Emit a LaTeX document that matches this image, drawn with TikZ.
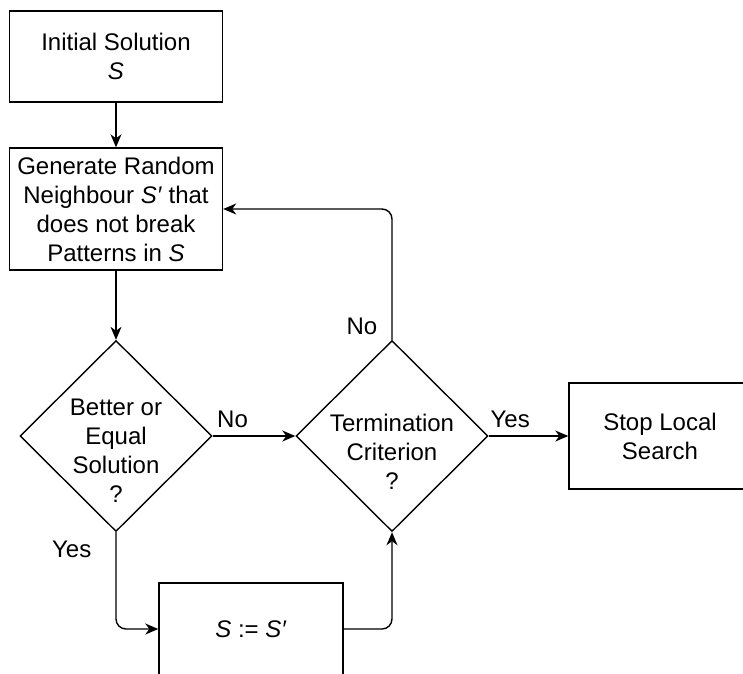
\documentclass[tikz,border=0pt]{standalone}
\usepackage{fontspec}
\setmainfont{Liberation Sans}
\usetikzlibrary{shapes.geometric}
\usetikzlibrary{arrows.meta}
\usetikzlibrary{positioning}
\tikzset{box/.style={draw, line width=1.4pt, inner sep=0pt, align=center},
 decision/.style={draw, diamond, line width=1.4pt, inner sep=0pt,
   minimum width=192pt, minimum height=191pt},
 flow/.style={draw, line width=1.4pt, rounded corners=10pt,
   -{Stealth[length=13pt, width=11pt, inset=4pt]}},
 lbl/.style={inner sep=2pt},
 }

\begin{document}
\begin{tikzpicture}[x=1pt, y=-1pt, font=\fontsize{24}{29}\selectfont]
        \useasboundingbox (0,0) rectangle (743,673);
        \node[box, minimum width=213pt, minimum height=91pt] (init) at (116, 56.5) {Initial Solution\\\textit{S}};
        \node[box, minimum width=213pt, minimum height=122pt] (gen) at (116, 209) {Generate Random\\Neighbour \textit{S′} that\\does not break\\Patterns in \textit{S}};
        \node[decision, label={[yshift=-15pt, align=center]center:{Better or\\Equal\\Solution\\?}}] (better) at (116, 436) {};
        \node[decision, label={[yshift=-16pt, align=center]center:{Termination\\Criterion\\?}}] (term) at (392, 436) {};
        \node[box, minimum width=182pt, minimum height=106pt] (stop) at (660, 436) {Stop Local\\Search};
        \node[box, minimum width=184pt, minimum height=92pt] (assign) at (251, 629) {\textit{S} := \textit{S′}};
        % connectors
        \draw[flow] (init.south) -- (gen.north);
        \draw[flow] (gen.south) -- (better.north);
        \draw[flow] (better.east) -- node[lbl, pos=0.24, above=6pt] (no1) {No} (term.west);
        \draw[flow] (term.east) -- node[lbl, pos=0.27, above=6pt] (yes1) {Yes} (stop.west);
        \draw[flow] (term.north) |- node[lbl, pos=0.05, left=12pt] (no2) {No} (gen.east);
        \draw[flow] (better.south) |- node[lbl, pos=0.09, left=22pt] (yes2) {Yes} (assign.west);
        \draw[flow] (assign.east) -| (term.south);
    \end{tikzpicture}
\end{document}
